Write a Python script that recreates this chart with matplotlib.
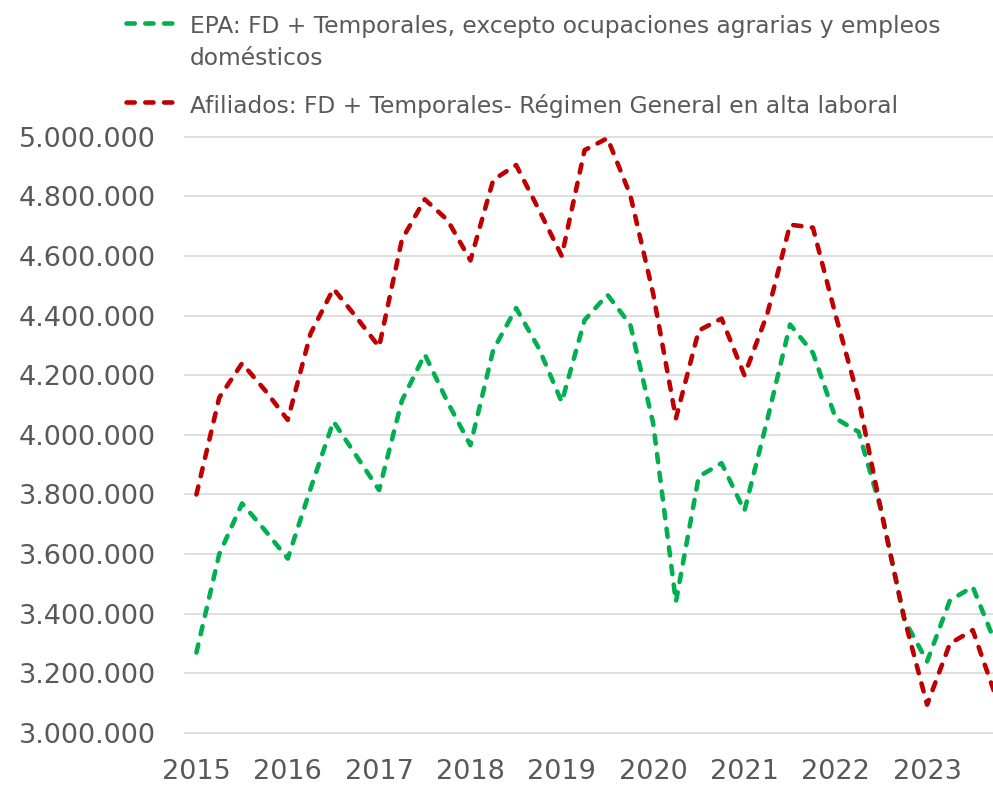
import numpy as np
import matplotlib.pyplot as plt
from matplotlib.lines import Line2D
from matplotlib.ticker import FuncFormatter, MultipleLocator

# datos trimestrales 2015T1 - 2023T4
anios = ['2015', '2016', '2017', '2018', '2019', '2020', '2021', '2022', '2023']
trimestres = [a + 'T' + str(q) for a in anios for q in range(1, 5)]

epa = [3270000, 3600000, 3770000, 3680000,
       3585000, 3820000, 4045000, 3930000,
       3815000, 4115000, 4270000, 4110000,
       3965000, 4285000, 4425000, 4290000,
       4110000, 4385000, 4470000, 4370000,
       4040000, 3440000, 3860000, 3905000,
       3745000, 4050000, 4370000, 4275000,
       4055000, 4010000, 3745000, 3380000,
       3240000, 3445000, 3490000, 3300000]

afiliados = [3800000, 4125000, 4240000, 4150000,
             4050000, 4340000, 4490000, 4395000,
             4295000, 4655000, 4790000, 4720000,
             4585000, 4855000, 4905000, 4755000,
             4600000, 4955000, 4995000, 4805000,
             4475000, 4055000, 4350000, 4390000,
             4200000, 4405000, 4705000, 4695000,
             4400000, 4120000, 3740000, 3385000,
             3095000, 3300000, 3345000, 3125000]

leyenda = ['EPA: FD + Temporales, excepto ocupaciones agrarias y empleos\ndomésticos',
           'Afiliados: FD + Temporales- Régimen General en alta laboral']

verde = '#00b050'
rojo = '#c00000'
gris = '#595959'

W, H = 993, 787
fig = plt.figure(figsize=(W / 100, H / 100), dpi=100)
ax = fig.add_axes([185 / W, 1 - 733 / H, (1007 - 185) / W, (733 - 136.7) / H])

x = np.arange(len(trimestres))
estilo = dict(lw=3.3, dashes=(1.8, 2.3), dash_capstyle='round')
ax.plot(x, epa, color=verde, **estilo)
ax.plot(x, afiliados, color=rojo, **estilo)

ax.set_xlim(-0.5, len(trimestres) - 0.5)
ax.set_ylim(3000000, 5000000)
ax.yaxis.set_major_locator(MultipleLocator(200000))
ax.yaxis.set_major_formatter(FuncFormatter(lambda v, p: f'{int(v):,}'.replace(',', '.')))
ax.set_xticks(x[::4])
ax.set_xticklabels(anios)

ax.tick_params(length=0, labelsize=19.5, colors=gris)
ax.tick_params(axis='y', pad=21)
ax.tick_params(axis='x', pad=19)
ax.grid(axis='y', color='#d9d9d9', lw=1.2)
ax.set_axisbelow(True)
for l in ax.get_ygridlines():
    l.set_clip_on(False)
for s in ax.spines.values():
    s.set_visible(False)

# leyenda arriba
for (y_px, texto, color) in [(23, leyenda[0], verde), (102, leyenda[1], rojo)]:
    fig.add_artist(Line2D([126 / W, 178 / W], [1 - y_px / H] * 2, transform=fig.transFigure,
                          color=color, **estilo))
    fig.text(190 / W, 1 - (y_px - 8.5) / H, texto, va='top', ha='left', color=gris,
             fontsize=16.8, linespacing=1.55)

fig.savefig('out.png', dpi=100)
